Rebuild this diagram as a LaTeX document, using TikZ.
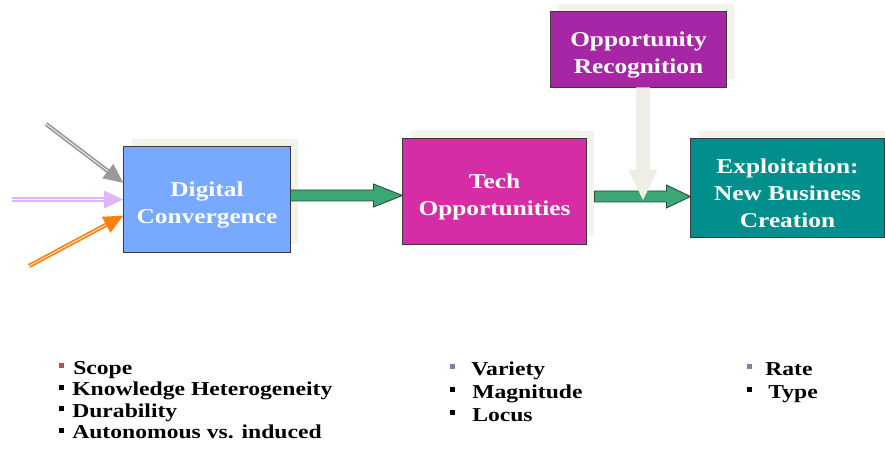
\documentclass[tikz,border=0pt]{standalone}
\usepackage{fontspec}
\setmainfont{Liberation Serif}[FakeStretch=1.2]
\usepackage{xcolor}
\usetikzlibrary{calc,positioning,shadows,arrows.meta}

\definecolor{dcblue}{HTML}{76A9FF}
\definecolor{techpink}{HTML}{D62DA6}
\definecolor{recpurple}{HTML}{A726A6}
\definecolor{exteal}{HTML}{008F8C}
\definecolor{boxline}{HTML}{3A3A3A}
\definecolor{shadowgray}{HTML}{F3F3EC}
\definecolor{arrowgreen}{HTML}{3CA674}
\definecolor{arrowedge}{HTML}{2A4A3A}
\definecolor{recarrow}{HTML}{EEEEE6}
\definecolor{ingray}{HTML}{9A9A9A}
\definecolor{inlilac}{HTML}{DCB6F8}
\definecolor{inorange}{HTML}{FF7F10}
\definecolor{bred}{HTML}{C0504D}
\definecolor{bblue}{HTML}{7F7FA8}

\newcommand{\topgap}{\rule{0pt}{18pt}}

\begin{document}
\begin{tikzpicture}[x=0.025cm,y=-0.025cm,
	box/.style={rectangle,draw=boxline,line width=0.7pt,text=white,align=center,inner sep=0pt,
		font=\bfseries\fontsize{15}{19.5}\selectfont,
		general shadow={fill=shadowgray,shadow xshift=0.2cm,shadow yshift=0.2cm}},
	garrow/.style={fill=arrowgreen,draw=arrowedge,line width=0.6pt},
	inarrow/.style={line width=3pt,-{Triangle[length=14pt,width=12pt]},
		postaction={draw=white,line width=0.5pt,arrows=-,shorten >=14pt}},
	item/.style={anchor=base west,inner sep=0pt,font=\bfseries\fontsize{14}{15}\selectfont}]
	\useasboundingbox (0,0) rectangle (885,451);
	\node[box,fill=dcblue,minimum width=4.15cm,minimum height=2.625cm] (dc) at (207,199.5) {\topgap Digital\\Convergence};
	\node[box,fill=techpink,minimum width=4.575cm,minimum height=2.625cm] (tech) at (494.5,191.5) {\topgap Tech\\Opportunities};
	\node[box,fill=recpurple,minimum width=4.375cm,minimum height=1.875cm] (rec) at (638.5,49.5) {\topgap Opportunity\\Recognition};
	\node[box,fill=exteal,minimum width=4.825cm,minimum height=2.45cm] (expl) at (787.5,188) {\topgap Exploitation:\\New Business\\Creation};
	% inputs to digital convergence
	\coordinate (ingray) at (46,124);
	\coordinate (inlilac) at (12,199.5);
	\coordinate (inorange) at (29,266);
	\draw[inarrow,ingray] (ingray) -- ($(dc.west)+(0,-16.5)$);
	\draw[inarrow,inlilac] (inlilac) -- (dc.west);
	\draw[inarrow,inorange] (inorange) -- ($(dc.west)+(0,16)$);
	% green block arrows
	\coordinate (g1s) at (dc.east |- 0,195.5);
	\coordinate (g1e) at (tech.west |- 0,195.5);
	\draw[garrow] ($(g1s)+(0,-5.5)$) -- ($(g1e)+(-29,-5.5)$) -- ($(g1e)+(-29,-11.5)$) -- (g1e)
		-- ($(g1e)+(-29,11.5)$) -- ($(g1e)+(-29,5.5)$) -- ($(g1s)+(0,5.5)$) -- cycle;
	\coordinate (g2s) at ($(tech.east |- 0,196.5)+(8,0)$);
	\coordinate (g2e) at (expl.west |- 0,196.5);
	\draw[garrow] ($(g2s)+(0,-5.5)$) -- ($(g2e)+(-24,-5.5)$) -- ($(g2e)+(-24,-11.5)$) -- (g2e)
		-- ($(g2e)+(-24,11.5)$) -- ($(g2e)+(-24,5.5)$) -- ($(g2s)+(0,5.5)$) -- cycle;
	% recognition arrow
	\coordinate (rtop) at (rec.south -| 643,0);
	\coordinate (rtip) at (643,200);
	\fill[recarrow] ($(rtop)+(-7,0)$) -- ($(rtip)+(-7,-30)$) -- ($(rtip)+(-14.5,-30)$) -- (rtip)
		-- ($(rtip)+(14.5,-30)$) -- ($(rtip)+(7,-30)$) -- ($(rtop)+(7,0)$) -- cycle;
	% lists
	\node[item] (scope) at (73,374) {Scope};
	\node[item] (know) at (72,395.5) {Knowledge Heterogeneity};
	\node[item] (dur) at (72,417) {Durability};
	\node[item] (auto) at (72,438.5) {Autonomous vs. induced};
	\node[item] (var) at (471,375) {Variety};
	\node[item] (magn) at (472,398) {Magnitude};
	\node[item] (loc) at (472,421) {Locus};
	\node[item] (rate) at (765,375) {Rate};
	\node[item] (type) at (768,398) {Type};
	\fill[bred] (59,363) rectangle ++(5,5);
	\foreach \y in {395.5,417,438.5} \fill[black] (59,\y-11) rectangle ++(5,5);
	\fill[bblue] (450,364) rectangle ++(5,5);
	\foreach \y in {398,421} \fill[black] (450,\y-11) rectangle ++(5,5);
	\fill[bblue] (747,364) rectangle ++(5,5);
	\fill[black] (747,387) rectangle ++(5,5);
\end{tikzpicture}
\end{document}
